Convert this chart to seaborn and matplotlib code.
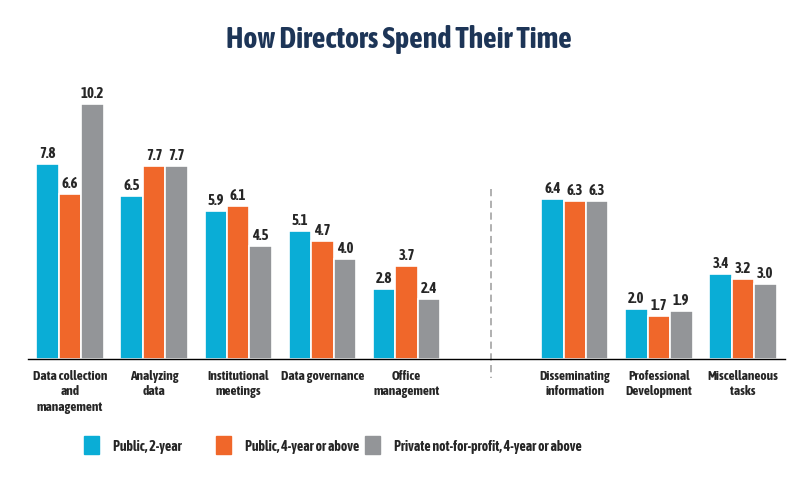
import pandas as pd
import numpy as np
import matplotlib.pyplot as plt
import seaborn as sns

categories = ['Data collection\nand\nmanagement', 'Analyzing\ndata', 'Institutional\nmeetings',
              'Data governance', 'Office\nmanagement', ' ',
              'Disseminating\ninformation', 'Professional\nDevelopment', 'Miscellaneous\ntasks']
groups = ['Public, 2-year', 'Public, 4-year or above', 'Private not-for-profit, 4-year or above']
public_2yr = [7.8, 6.5, 5.9, 5.1, 2.8, None, 6.4, 2.0, 3.4]
public_4yr = [6.6, 7.7, 6.1, 4.7, 3.7, None, 6.3, 1.7, 3.2]
private_4yr = [10.2, 7.7, 4.5, 4.0, 2.4, None, 6.3, 1.9, 3.0]
colors = ['#0AADD6', '#F0672A', '#939598']

rows = []
for g, vals in zip(groups, [public_2yr, public_4yr, private_4yr]):
    for c, v in zip(categories, vals):
        if v is not None:
            rows.append({'task': c, 'group': g, 'hours': v})
df = pd.DataFrame(rows)

sns.set_style('white')
plt.rcParams['font.family'] = ['Asap Condensed', 'DejaVu Sans']
plt.rcParams['font.stretch'] = 'condensed'

fig = plt.figure(figsize=(7.97, 4.89), dpi=100)
ax = fig.add_axes([0.035, 0.264, 0.95, 0.55])
sns.barplot(data=df, x='task', y='hours', hue='group', order=categories, hue_order=groups,
            palette=colors, saturation=1, width=0.8, edgecolor='white', linewidth=1.2,
            ax=ax, legend=False)

for container in ax.containers:
    ax.bar_label(container, fmt='%.1f', padding=3, fontsize=10.5, fontweight='bold')

ax.set_xlim(-0.5, 8.5)
ax.set_ylim(0, 10.75)
ax.set_xlabel('')
ax.set_ylabel('')
ax.set_yticks([])
for s in ['left', 'right', 'top']:
    ax.spines[s].set_visible(False)
ax.spines['bottom'].set_color('black')
ax.spines['bottom'].set_linewidth(1.0)
ax.tick_params(axis='x', length=0, pad=7)
for lbl in ax.get_xticklabels():
    lbl.set_fontweight('bold')
    lbl.set_fontsize(9.6)
    lbl.set_verticalalignment('top')
    lbl.set_linespacing(1.25)

ax.plot([5, 5], [6.8, -0.75], ls=(0, (4, 2.5)), color='#AAAAAA', lw=1.3, clip_on=False)

# legend entries placed individually to match uneven spacing
legend_x = [0.105, 0.271, 0.458]
for c, g, lx in zip(colors, groups, legend_x):
    fig.legend([plt.Rectangle((0, 0), 1, 1, color=c)], [g], loc='center left',
               bbox_to_anchor=(lx, 0.088), frameon=False, borderpad=0, borderaxespad=0,
               prop={'family': 'Asap Condensed', 'weight': 'bold', 'size': 10},
               handlelength=1.1, handleheight=1.6, handletextpad=1.0)

fig.suptitle('How Directors Spend Their Time', y=0.948, fontsize=21.5, fontweight='bold', color='#1D3557')

fig.savefig('out.png', dpi=100)
